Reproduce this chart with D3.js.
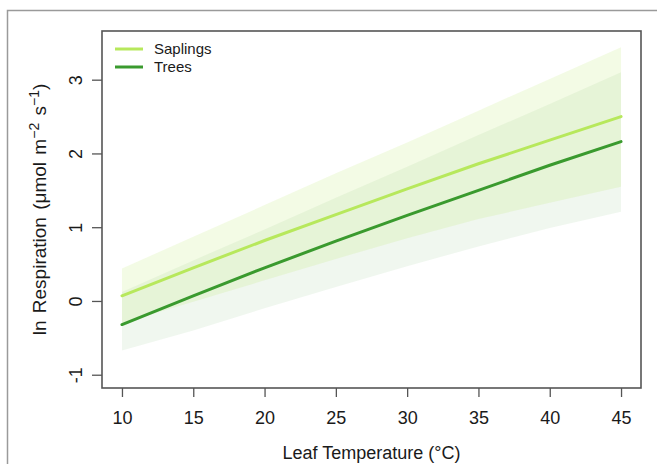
<!DOCTYPE html>
<html lang="en">
<head>
    <meta charset="UTF-8">
    <title>Leaf respiration</title>
    <script src="https://d3js.org/d3.v7.min.js"></script>
    <style>
        body { margin: 0; background: #fff; }
        svg { display: block; font-family: "Liberation Sans", Arial, sans-serif; }
    </style>
</head>
<body>
    <svg width="657" height="464"></svg>
    <script>
        // leaf temperature (°C)
        const temps = [10, 15, 20, 25, 30, 35, 40, 45];

        // fitted ln respiration and its confidence band
        const saplingFit   = [0.07, 0.45, 0.82, 1.17, 1.52, 1.86, 2.18, 2.50];
        const saplingUpper = [0.44, 0.87, 1.30, 1.73, 2.15, 2.58, 3.01, 3.44];
        const saplingLower = [-0.30, -0.01, 0.28, 0.57, 0.85, 1.11, 1.33, 1.55];

        const treeFit   = [-0.32, 0.07, 0.45, 0.81, 1.16, 1.50, 1.84, 2.16];
        const treeUpper = [0.12, 0.55, 0.97, 1.40, 1.82, 2.25, 2.67, 3.10];
        const treeLower = [-0.67, -0.40, -0.10, 0.19, 0.47, 0.74, 0.99, 1.21];

        const xTicks = [10, 15, 20, 25, 30, 35, 40, 45];
        const yTicks = [-1, 0, 1, 2, 3];

        const groups = [
            { name: "Saplings", fit: saplingFit, lo: saplingLower, hi: saplingUpper, line: "#b7e85c", band: "#b7e85c", op: 0.16 },
            { name: "Trees", fit: treeFit, lo: treeLower, hi: treeUpper, line: "#3a9a2e", band: "#3a9a2e", op: 0.08 }
        ];

        const svg = d3.select("svg");
        const box = { left: 102, right: 641, top: 31, bottom: 388 };

        // R style 4% padding around data range
        const x = d3.scaleLinear().domain([8.6, 46.4]).range([box.left, box.right]);
        const y = d3.scaleLinear().domain([-1.18, 3.66]).range([box.bottom, box.top]);

        // outer frame of the figure
        svg.append("path")
            .attr("d", "M7.5,470 V10.5 H700")
            .attr("fill", "none")
            .attr("stroke", "#9a9a9a")
            .attr("stroke-width", 1.5);

        // bands, trees first, saplings on top
        [groups[1], groups[0]].forEach(g => {
            const rows = temps.map((t, i) => ({ t, lo: g.lo[i], hi: g.hi[i] }));
            svg.append("path")
                .datum(rows)
                .attr("d", d3.area().x(d => x(d.t)).y0(d => y(d.lo)).y1(d => y(d.hi)))
                .attr("fill", g.band)
                .attr("fill-opacity", g.op);
        });

        groups.forEach(g => {
            const rows = temps.map((t, i) => ({ t, v: g.fit[i] }));
            svg.append("path")
                .datum(rows)
                .attr("d", d3.line().x(d => x(d.t)).y(d => y(d.v)))
                .attr("fill", "none")
                .attr("stroke", g.line)
                .attr("stroke-width", 3)
                .attr("stroke-linecap", "round");
        });

        // axes
        const xAxis = svg.append("g")
            .attr("transform", `translate(0,${box.bottom})`)
            .call(d3.axisBottom(x).tickValues(xTicks).tickSize(9).tickPadding(14));
        const yAxis = svg.append("g")
            .attr("transform", `translate(${box.left},0)`)
            .call(d3.axisLeft(y).tickValues(yTicks).tickSize(10).tickPadding(5).tickFormat(d => String(d)));

        [xAxis, yAxis].forEach(a => {
            a.select(".domain").remove();
            a.selectAll("line").attr("stroke", "#555").attr("stroke-width", 1.3);
            a.selectAll("text").attr("fill", "#1a1a1a").style("font-size", "18px")
                .style("font-family", "'Liberation Sans', Arial, sans-serif");
        });
        yAxis.selectAll("text")
            .attr("x", null).attr("dy", null)
            .attr("text-anchor", "middle")
            .attr("transform", "translate(-20,0) rotate(-90)");

        // plot box
        svg.append("rect")
            .attr("x", box.left).attr("y", box.top)
            .attr("width", box.right - box.left).attr("height", box.bottom - box.top)
            .attr("fill", "none").attr("stroke", "#555").attr("stroke-width", 1.6);

        // axis titles
        svg.append("text")
            .attr("x", (box.left + box.right) / 2).attr("y", 459)
            .attr("text-anchor", "middle")
            .style("font-size", "18px").attr("fill", "#1a1a1a")
            .text("Leaf Temperature (°C)");

        const yt = svg.append("text")
            .attr("transform", `translate(46,${(box.top + box.bottom) / 2}) rotate(-90)`)
            .attr("text-anchor", "middle")
            .style("font-size", "19px").style("word-spacing", "2px").attr("fill", "#1a1a1a");
        yt.append("tspan").text("ln Respiration (μmol m");
        yt.append("tspan").attr("dy", -7).style("font-size", "14px").text("−2");
        yt.append("tspan").attr("dy", 7).text(" s");
        yt.append("tspan").attr("dy", -7).style("font-size", "14px").text("−1");
        yt.append("tspan").attr("dy", 7).text(")");

        // legend
        const leg = svg.append("g");
        groups.forEach((g, i) => {
            const ly = 49 + i * 18;
            leg.append("line")
                .attr("x1", 115).attr("x2", 143).attr("y1", ly).attr("y2", ly)
                .attr("stroke", g.line).attr("stroke-width", 3);
            leg.append("text")
                .attr("x", 154).attr("y", ly).attr("dy", "0.35em")
                .style("font-size", "15px").attr("fill", "#1a1a1a")
                .text(g.name);
        });
    </script>
</body>
</html>
